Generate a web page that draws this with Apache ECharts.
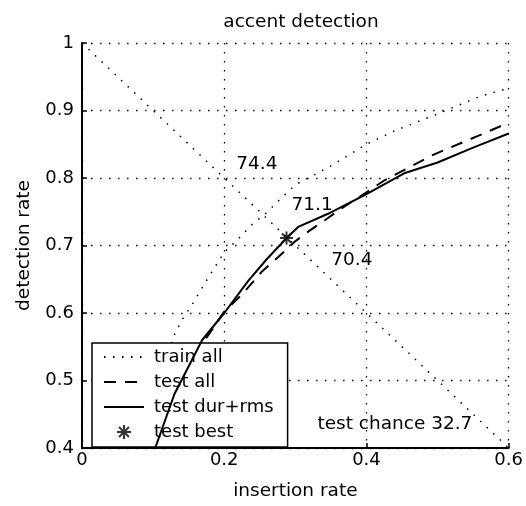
<!DOCTYPE html>
<html>
<head>
<meta charset="utf-8">
<script src="https://cdn.jsdelivr.net/npm/echarts@6/dist/echarts.min.js"></script>
<style>
html,body{margin:0;padding:0;background:#fff;}
#c{width:526px;height:506px;}
</style>
</head>
<body>
<div id="c"></div>
<script>
// ---- data ----
const xTicks = ['0', '0.2', '0.4', '0.6'];
const yTicks = ['0.4', '0.5', '0.6', '0.7', '0.8', '0.9', '1'];

const trainX = [0.088, 0.11, 0.129, 0.142, 0.157, 0.171, 0.185, 0.20, 0.22, 0.24, 0.26, 0.278, 0.30, 0.35, 0.40, 0.44, 0.50, 0.56, 0.60];
const trainY = [0.40, 0.50, 0.566, 0.592, 0.616, 0.641, 0.665, 0.69, 0.71, 0.732, 0.749, 0.768, 0.79, 0.818, 0.85, 0.87, 0.895, 0.921, 0.933];

const testAllX = [0.088, 0.12, 0.173, 0.20, 0.2246, 0.2526, 0.276, 0.299, 0.320, 0.341, 0.365, 0.393, 0.426, 0.459, 0.493, 0.556, 0.60];
const testAllY = [0.40, 0.47, 0.56, 0.602, 0.627, 0.661, 0.683, 0.7055, 0.722, 0.737, 0.755, 0.774, 0.797, 0.815, 0.834, 0.862, 0.882];

const durRmsX = [0.103, 0.13, 0.169, 0.20, 0.234, 0.26, 0.2876, 0.304, 0.346, 0.374, 0.40, 0.453, 0.50, 0.55, 0.60];
const durRmsY = [0.40, 0.48, 0.56, 0.60, 0.648, 0.68, 0.711, 0.7275, 0.747, 0.762, 0.776, 0.807, 0.823, 0.845, 0.866];

const bestX = [0.2876];
const bestY = [0.711];

const chanceX = [0, 0.6];
const chanceY = [1, 0.4];

const noteText = ['74.4', '71.1', '70.4', 'test chance 32.7'];
const noteX = [0.217, 0.2946, 0.3505, 0.331];
const noteY = [0.8206, 0.759, 0.678, 0.436];

// ---- chart ----
const FONT = 'DejaVu Sans';
const zip = (xs, ys) => xs.map((x, i) => [x, ys[i]]);
const dotted = [1.5, 7.5];
const star = 'path://M0,-10L0,10M-10,0L10,0M-7.07,-7.07L7.07,7.07M-7.07,7.07L7.07,-7.07';
const noSym = {opacity: 0};

const chart = echarts.init(document.getElementById('c'), null, {renderer: 'canvas'});
chart.setOption({
  animation: false,
  backgroundColor: '#fff',
  textStyle: {fontFamily: FONT, color: '#000'},
  title: {
    text: 'accent detection',
    left: 296, top: 8, textAlign: 'center',
    textStyle: {fontFamily: FONT, fontSize: 18.5, fontWeight: 'normal', color: '#000'}
  },
  grid: {left: 82, right: 15, top: 43, bottom: 55, containLabel: false},
  xAxis: {
    type: 'value', min: 0, max: 0.6, interval: 0.2,
    name: 'insertion rate', nameLocation: 'middle', nameGap: 34,
    nameTextStyle: {fontFamily: FONT, fontSize: 18.5, color: '#000'},
    axisLine: {show: true, onZero: false, lineStyle: {color: '#000', width: 2}},
    axisTick: {show: true, inside: true, length: 5, lineStyle: {color: '#000', width: 1.5}},
    axisLabel: {margin: 3, fontFamily: FONT, fontSize: 18, color: '#000',
      formatter: (v) => xTicks[Math.round(v / 0.2)]},
    splitLine: {show: true, lineStyle: {color: '#000', width: 1.3, type: dotted}}
  },
  yAxis: {
    type: 'value', min: 0.4, max: 1, interval: 0.1,
    name: 'detection rate', nameLocation: 'middle', nameGap: 48,
    nameTextStyle: {fontFamily: FONT, fontSize: 18.5, color: '#000'},
    axisLine: {show: true, onZero: false, lineStyle: {color: '#000', width: 2}},
    axisTick: {show: true, inside: true, length: 5, lineStyle: {color: '#000', width: 1.5}},
    axisLabel: {margin: 8, fontFamily: FONT, fontSize: 18, color: '#000',
      formatter: (v) => yTicks[Math.round((v - 0.4) / 0.1)]},
    splitLine: {show: true, lineStyle: {color: '#000', width: 1.3, type: dotted}}
  },
  legend: {
    data: [
      {name: 'train all', itemStyle: noSym},
      {name: 'test all', itemStyle: noSym},
      {name: 'test dur+rms', itemStyle: noSym},
      {name: 'test best'}
    ],
    orient: 'vertical', left: 92, top: 343,
    backgroundColor: '#fff', borderColor: '#000', borderWidth: 1.5, borderRadius: 0,
    padding: [4, 14, 5, 11],
    itemWidth: 40, itemHeight: 14, itemGap: 5,
    textStyle: {fontFamily: FONT, fontSize: 18, color: '#000', lineHeight: 20, padding: [0, 0, 0, 5]},
    selectedMode: false
  },
  series: [
    {
      name: 'chance', type: 'line', data: zip(chanceX, chanceY), symbol: 'none',
      lineStyle: {color: '#000', width: 1.5, type: dotted}, z: 2
    },
    {
      name: 'train all', type: 'line', data: zip(trainX, trainY), symbol: 'none',
      lineStyle: {color: '#000', width: 1.5, type: dotted}, itemStyle: {color: '#000'}, z: 2
    },
    {
      name: 'test all', type: 'line', data: zip(testAllX, testAllY), symbol: 'none',
      lineStyle: {color: '#000', width: 2, type: [12, 9]}, itemStyle: {color: '#000'}, z: 3
    },
    {
      name: 'test dur+rms', type: 'line', data: zip(durRmsX, durRmsY), symbol: 'none',
      lineStyle: {color: '#000', width: 2, type: 'solid'}, itemStyle: {color: '#000'}, z: 4
    },
    {
      name: 'test best', type: 'scatter', data: zip(bestX, bestY),
      symbol: star, symbolSize: 13,
      itemStyle: {color: 'rgba(0,0,0,0)', borderColor: '#000', borderWidth: 2}, z: 5
    },
    {
      name: 'notes', type: 'scatter', symbol: 'circle', symbolSize: 0, silent: true,
      itemStyle: {color: '#000'},
      data: noteText.map((t, i) => ({value: [noteX[i], noteY[i]], name: t})),
      label: {show: true, position: 'right', distance: 0, formatter: (p) => p.name,
        fontFamily: FONT, fontSize: 18.5, color: '#000', opacity: 1, textBorderWidth: 0},
      z: 6
    }
  ]
});
</script>
</body>
</html>
